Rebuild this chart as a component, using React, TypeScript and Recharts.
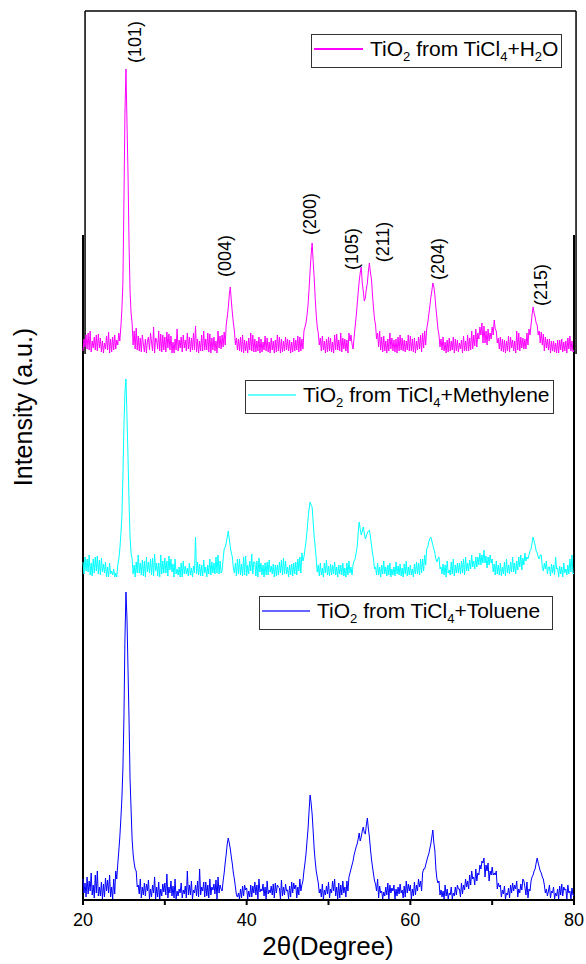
import React from 'react';
import {
  ComposedChart,
  Line,
  XAxis,
  YAxis,
  Scatter,
  ReferenceLine,
} from 'recharts';

// XRD patterns, sampled every 0.125 deg from 20 to 80, one line per degree
// (heights above each trace's own baseline)
const START = 20;
const STEP = 0.125;

// TiCl4 + H2O (top trace)
const h2o = [
  2, 14, 6, 18, 4, 20, 3, 22, // 20
  1, 12, 5, 16, 3, 18, 2, 19,
  5, 15, 1, 12, 0, 10, 4, 17,
  3, 21, 0, 14, 1, 16, 3, 18,
  4, 13, 8, 20, 12, 26, 43, 70,
  150, 240, 284, 230, 180, 110, 62, 40, // 25
  30, 8, 22, 4, 25, 3, 17, 2,
  15, 1, 18, 9, 1, 14, 0, 12,
  16, 3, 20, 11, 2, 26, 0, 15,
  13, 4, 22, 2, 19, 1, 18, 3,
  16, 1, 21, 5, 19, 3, 17, 0, // 30
  11, 0, 14, 3, 24, 2, 13, 5,
  16, 1, 18, 5, 13, 2, 20, 4,
  16, 1, 15, 3, 20, 3, 27, 1,
  14, 0, 12, 2, 18, 2, 22, 3,
  14, 3, 20, 1, 19, 0, 15, 3, // 35
  16, 2, 12, 0, 22, 5, 17, 4,
  18, 6, 21, 8, 28, 36, 45, 58,
  66, 52, 40, 30, 22, 8, 15, 3,
  14, 2, 16, 1, 18, 0, 13, 2,
  12, 0, 15, 3, 20, 2, 18, 1, // 40
  14, 1, 12, 2, 16, 0, 14, 1,
  11, 3, 17, 2, 15, 1, 11, 0,
  15, 3, 12, 0, 13, 1, 18, 2,
  16, 0, 14, 1, 12, 2, 16, 3,
  14, 2, 13, 0, 11, 1, 15, 2, // 45
  13, 3, 17, 1, 16, 2, 14, 4,
  22, 26, 30, 38, 48, 64, 82, 98,
  110, 92, 75, 55, 38, 26, 20, 8,
  15, 2, 17, 3, 12, 0, 14, 1,
  16, 2, 15, 1, 11, 0, 18, 3, // 50
  19, 3, 13, 2, 20, 1, 15, 4,
  14, 2, 13, 0, 20, 12, 18, 9,
  4, 15, 26, 36, 48, 60, 72, 80,
  86, 70, 62, 52, 55, 64, 70, 82,
  90, 80, 74, 58, 45, 34, 28, 14, // 55
  20, 6, 22, 3, 16, 1, 17, 2,
  12, 0, 14, 2, 20, 4, 15, 2,
  13, 1, 14, 0, 16, 2, 18, 3,
  15, 2, 13, 1, 12, 3, 18, 2,
  17, 2, 14, 1, 15, 0, 12, 3, // 60
  16, 4, 18, 1, 20, 5, 22, 8,
  24, 30, 38, 46, 55, 62, 70, 66,
  58, 45, 35, 24, 18, 6, 14, 3,
  16, 2, 11, 0, 13, 1, 15, 2,
  12, 3, 16, 0, 14, 2, 13, 1, // 65
  10, 4, 13, 0, 17, 2, 12, 2,
  18, 2, 15, 3, 22, 4, 18, 7,
  24, 6, 20, 14, 26, 18, 30, 10,
  27, 10, 22, 8, 24, 12, 20, 14,
  26, 18, 33, 24, 22, 10, 15, 4, // 70
  16, 2, 14, 1, 13, 0, 12, 2,
  17, 1, 16, 5, 13, 2, 12, 0,
  22, 3, 20, 2, 16, 5, 15, 4,
  14, 4, 20, 8, 24, 18, 28, 38,
  46, 40, 36, 30, 28, 18, 22, 10, // 75
  21, 8, 19, 2, 16, 5, 14, 3,
  14, 0, 12, 2, 12, 1, 10, 0,
  13, 0, 13, 3, 14, 1, 11, 2,
  12, 0, 15, 4, 17, 2, 12, 1,
  3, // 80
];

// TiCl4 + Methylene (middle trace)
const methylene = [
  15, 3, 20, 6, 18, 5, 22, 2, // 20
  14, 1, 18, 4, 20, 6, 21, 3,
  17, 2, 19, 5, 13, 4, 15, 0,
  10, 0, 14, 3, 6, 2, 8, 0,
  4, 0, 12, 18, 28, 42, 60, 100,
  150, 185, 198, 160, 120, 75, 40, 24, // 25
  18, 3, 12, 0, 15, 4, 22, 4,
  14, 2, 17, 1, 16, 0, 20, 5,
  15, 4, 18, 2, 19, 1, 23, 6,
  14, 1, 14, 0, 22, 3, 16, 4,
  19, 4, 16, 1, 21, 7, 18, 5, // 30
  13, 0, 18, 3, 8, 2, 10, 0,
  14, 0, 16, 3, 11, 3, 9, 1,
  14, 2, 9, 0, 11, 4, 40, 3,
  15, 2, 13, 1, 12, 1, 17, 4,
  10, 0, 12, 3, 18, 2, 15, 4, // 35
  14, 3, 20, 4, 22, 3, 16, 4,
  6, 18, 28, 30, 34, 40, 46, 38,
  30, 24, 20, 9, 4, 14, 1, 18,
  3, 18, 2, 13, 1, 20, 2, 21,
  1, 12, 3, 16, 6, 23, 3, 15, // 40
  15, 1, 16, 0, 19, 5, 14, 2,
  12, 0, 14, 2, 15, 2, 17, 5,
  11, 3, 13, 0, 12, 1, 12, 2,
  15, 4, 17, 2, 19, 3, 16, 3,
  10, 0, 12, 2, 13, 1, 14, 3, // 45
  15, 2, 18, 6, 20, 4, 24, 16,
  20, 28, 35, 46, 58, 68, 75, 72,
  70, 55, 40, 30, 18, 5, 12, 1,
  14, 2, 9, 0, 14, 4, 17, 2,
  11, 1, 13, 2, 12, 3, 15, 2, // 50
  10, 0, 12, 3, 12, 2, 14, 1,
  9, 0, 14, 2, 16, 4, 10, 2,
  12, 16, 18, 24, 30, 44, 55, 48,
  42, 46, 50, 44, 38, 41, 44, 46,
  47, 40, 32, 24, 18, 8, 10, 2, // 55
  14, 2, 10, 0, 12, 3, 16, 3,
  10, 1, 12, 2, 14, 0, 8, 2,
  10, 1, 15, 3, 11, 2, 13, 1,
  9, 0, 13, 3, 16, 1, 10, 2,
  12, 2, 8, 0, 13, 3, 15, 3, // 60
  14, 2, 18, 4, 18, 6, 22, 12,
  28, 30, 35, 38, 40, 36, 32, 28,
  24, 18, 15, 18, 20, 8, 10, 3,
  13, 2, 12, 0, 16, 4, 7, 2,
  15, 3, 18, 1, 12, 4, 14, 4, // 65
  14, 3, 16, 4, 18, 2, 20, 6,
  14, 6, 17, 8, 22, 10, 16, 8,
  20, 10, 20, 12, 24, 12, 22, 14,
  27, 14, 21, 9, 20, 12, 22, 14,
  18, 5, 13, 2, 16, 3, 12, 2, // 70
  14, 1, 10, 3, 15, 1, 18, 4,
  12, 3, 15, 5, 20, 5, 14, 3,
  16, 7, 20, 10, 22, 7, 19, 12,
  24, 16, 20, 18, 22, 26, 28, 34,
  40, 36, 32, 26, 24, 20, 18, 22, // 75
  22, 10, 6, 14, 8, 16, 3, 10,
  10, 1, 13, 4, 12, 2, 20, 8,
  9, 0, 11, 3, 10, 0, 14, 4,
  8, 2, 12, 3, 18, 5, 22, 3,
  4, // 80
];

// TiCl4 + Toluene (bottom trace)
const toluene = [
  20, 6, 16, 2, 22, 5, 18, 8, // 20
  26, 4, 14, 1, 24, 6, 28, 3,
  12, 3, 17, 0, 15, 2, 21, 8,
  19, 6, 24, 2, 12, 0, 20, 5,
  28, 20, 35, 48, 62, 80, 100, 130,
  180, 260, 307, 280, 230, 180, 120, 90, // 25
  60, 45, 36, 30, 28, 12, 14, 5,
  20, 1, 12, 4, 16, 3, 15, 8,
  19, 0, 10, 2, 14, 6, 22, 0,
  12, 2, 17, 0, 10, 3, 15, 7,
  16, 4, 25, 1, 12, 6, 18, 3, // 30
  13, 1, 20, 0, 8, 3, 10, 6,
  16, 1, 9, 5, 13, 1, 28, 4,
  14, 4, 18, 0, 9, 6, 14, 3,
  18, 2, 30, 4, 12, 8, 17, 2,
  17, 3, 14, 1, 20, 4, 12, 9, // 35
  15, 5, 19, 0, 22, 6, 14, 10,
  8, 18, 26, 36, 45, 55, 61, 56,
  50, 42, 35, 26, 20, 12, 4, 2,
  6, 0, 10, 1, 13, 3, 14, 9,
  11, 0, 8, 2, 14, 2, 13, 6, // 40
  17, 4, 14, 0, 20, 7, 10, 8,
  15, 3, 12, 0, 18, 5, 9, 6,
  13, 4, 15, 1, 16, 6, 14, 12,
  11, 0, 19, 3, 12, 4, 15, 8,
  9, 0, 13, 2, 17, 6, 16, 10, // 45
  14, 1, 12, 4, 20, 8, 14, 18,
  28, 36, 45, 58, 70, 88, 104, 96,
  85, 68, 50, 38, 28, 22, 16, 6,
  10, 2, 15, 0, 9, 4, 13, 5,
  17, 1, 10, 6, 18, 8, 20, 3, // 50
  12, 0, 16, 1, 14, 4, 18, 6,
  12, 2, 18, 8, 22, 26, 30, 34,
  38, 44, 48, 52, 55, 60, 66, 58,
  62, 68, 72, 66, 65, 74, 81, 70,
  62, 50, 40, 32, 25, 18, 15, 8, // 55
  20, 1, 13, 6, 8, 0, 7, 3,
  12, 4, 16, 0, 14, 6, 11, 8,
  14, 0, 10, 3, 12, 5, 15, 6,
  9, 1, 13, 2, 18, 6, 15, 8,
  14, 0, 10, 3, 17, 4, 14, 8, // 60
  20, 12, 18, 8, 26, 30, 30, 34,
  38, 42, 45, 50, 55, 62, 69, 56,
  48, 30, 20, 16, 18, 4, 9, 2,
  8, 0, 14, 3, 10, 0, 6, 4,
  12, 0, 6, 3, 12, 4, 14, 10, // 65
  10, 2, 16, 5, 14, 9, 20, 12,
  18, 10, 24, 14, 28, 20, 22, 14,
  30, 18, 26, 24, 34, 30, 38, 36,
  41, 22, 34, 28, 36, 18, 28, 24,
  32, 24, 26, 24, 28, 10, 16, 12, // 70
  14, 2, 9, 5, 13, 0, 6, 4,
  11, 1, 14, 6, 16, 8, 14, 10,
  18, 2, 10, 6, 15, 9, 20, 18,
  12, 4, 17, 1, 10, 8, 18, 22,
  24, 28, 30, 36, 41, 36, 32, 28, // 75
  26, 22, 20, 14, 6, 10, 3, 8,
  14, 1, 8, 6, 12, 0, 6, 3,
  10, 0, 13, 4, 15, 3, 12, 9,
  10, 0, 14, 6, 8, 0, 11, 4,
  3, // 80
];

// vertical stacking offsets (same units as intensity)
const offsets = { h2o: 547, methylene: 323, toluene: 1 };

// Miller index labels over the top pattern
const peakLabels = [
  { x: 26.35, y: 858, text: '(101)' },
  { x: 37.35, y: 644, text: '(004)' },
  { x: 47.74, y: 686, text: '(200)' },
  { x: 52.87, y: 651, text: '(105)' },
  { x: 56.66, y: 658, text: '(211)' },
  { x: 63.38, y: 641, text: '(204)' },
  { x: 75.97, y: 615, text: '(215)' },
];

const xTicks = [20, 30, 40, 50, 60, 70, 80];

const data = h2o.map((v, i) => ({
  x: START + STEP * i,
  h2o: v + offsets.h2o,
  methylene: methylene[i] + offsets.methylene,
  toluene: toluene[i] + offsets.toluene,
}));

const FONT = "Arial, 'Liberation Sans', sans-serif";

const PeakText = (props: any) => {
  const { cx, cy, payload } = props;
  return (
    <text
      x={cx}
      y={cy}
      transform={`rotate(-90 ${cx} ${cy})`}
      textAnchor="middle"
      dominantBaseline="central"
      fontSize={18}
      fontFamily={FONT}
      fill="#000"
    >
      {payload.text}
    </text>
  );
};

const sub = { fontSize: 13 };

const LegendBox = ({ left, top, width, color, lineW, gap, suffix }: any) => (
  <div
    style={{
      position: 'absolute',
      left,
      top,
      width,
      height: 34,
      boxSizing: 'border-box',
      border: '1.5px solid #333',
      background: '#fff',
      display: 'flex',
      alignItems: 'center',
      paddingLeft: 2,
      fontSize: 21,
      fontFamily: FONT,
      color: '#000',
      whiteSpace: 'nowrap',
    }}
  >
    <span
      style={{
        display: 'inline-block',
        flexShrink: 0,
        width: lineW,
        height: 0,
        borderTop: `2px solid ${color}`,
        marginRight: gap,
        marginTop: -4,
      }}
    />
    <span style={{ flexShrink: 0 }}>
      TiO<sub style={sub}>2</sub> from TiCl<sub style={sub}>4</sub>+{suffix}
    </span>
  </div>
);

export default function App() {
  return (
    <div style={{ position: 'absolute', left: 0, top: 0, width: 586, height: 964, background: '#fff', fontFamily: FONT }}>
      <ComposedChart width={586} height={964} data={data} margin={{ top: 11, right: 12, left: 83, bottom: 0 }}>
        <XAxis
          dataKey="x"
          type="number"
          domain={[20, 80]}
          ticks={xTicks}
          tickFormatter={(v) => (v % 20 === 0 ? String(v) : '')}
          tick={{ fill: '#000', fontSize: 18, fontFamily: FONT }}
          axisLine={{ stroke: '#000', strokeWidth: 2 }}
          tickLine={{ stroke: '#000', strokeWidth: 2 }}
          tickSize={5}
          tickMargin={8}
          height={64}
        />
        <YAxis type="number" domain={[0, 889]} hide />
        {/* frame of the lower (full-height) graph */}
        <ReferenceLine segment={[{ x: 20, y: 0 }, { x: 20, y: 665 }]} stroke="#000" strokeWidth={2} />
        <ReferenceLine segment={[{ x: 80, y: 0 }, { x: 80, y: 665 }]} stroke="#000" strokeWidth={2} />
        {/* frame of the overlaid top graph */}
        <ReferenceLine segment={[{ x: 20.25, y: 889 }, { x: 80.25, y: 889 }]} stroke="#000" strokeWidth={1.5} ifOverflow="visible" />
        <ReferenceLine segment={[{ x: 20.25, y: 546 }, { x: 20.25, y: 889 }]} stroke="#000" strokeWidth={1.5} ifOverflow="visible" />
        <ReferenceLine segment={[{ x: 80.25, y: 546 }, { x: 80.25, y: 889 }]} stroke="#000" strokeWidth={1.5} ifOverflow="visible" />
        <Line type="linear" dataKey="toluene" stroke="#0000ff" strokeWidth={1} dot={false} isAnimationActive={false} />
        <Line type="linear" dataKey="methylene" stroke="#00ffff" strokeWidth={1} dot={false} isAnimationActive={false} />
        <Line type="linear" dataKey="h2o" stroke="#ff00ff" strokeWidth={1} dot={false} isAnimationActive={false} />
        <Scatter data={peakLabels} dataKey="y" shape={<PeakText />} isAnimationActive={false} />
      </ComposedChart>

      <LegendBox left={311} top={34} width={251} color="#ff00ff" lineW={49} gap={7} suffix={<>H<sub style={sub}>2</sub>O</>} />
      <LegendBox left={245} top={380} width={309} color="#66ffff" lineW={48} gap={7} suffix="Methylene" />
      <LegendBox left={259} top={596} width={294} color="#6666ff" lineW={48} gap={7} suffix="Toluene" />

      <div
        style={{
          position: 'absolute',
          left: 23,
          top: 407,
          transform: 'translate(-50%, -50%) rotate(-90deg)',
          fontSize: 25,
          whiteSpace: 'nowrap',
          color: '#000',
        }}
      >
        Intensity (a.u.)
      </div>
      <div
        style={{
          position: 'absolute',
          left: 328,
          top: 946,
          transform: 'translate(-50%, -50%)',
          fontSize: 26,
          whiteSpace: 'nowrap',
          color: '#000',
        }}
      >
        2θ(Degree)
      </div>
    </div>
  );
}
